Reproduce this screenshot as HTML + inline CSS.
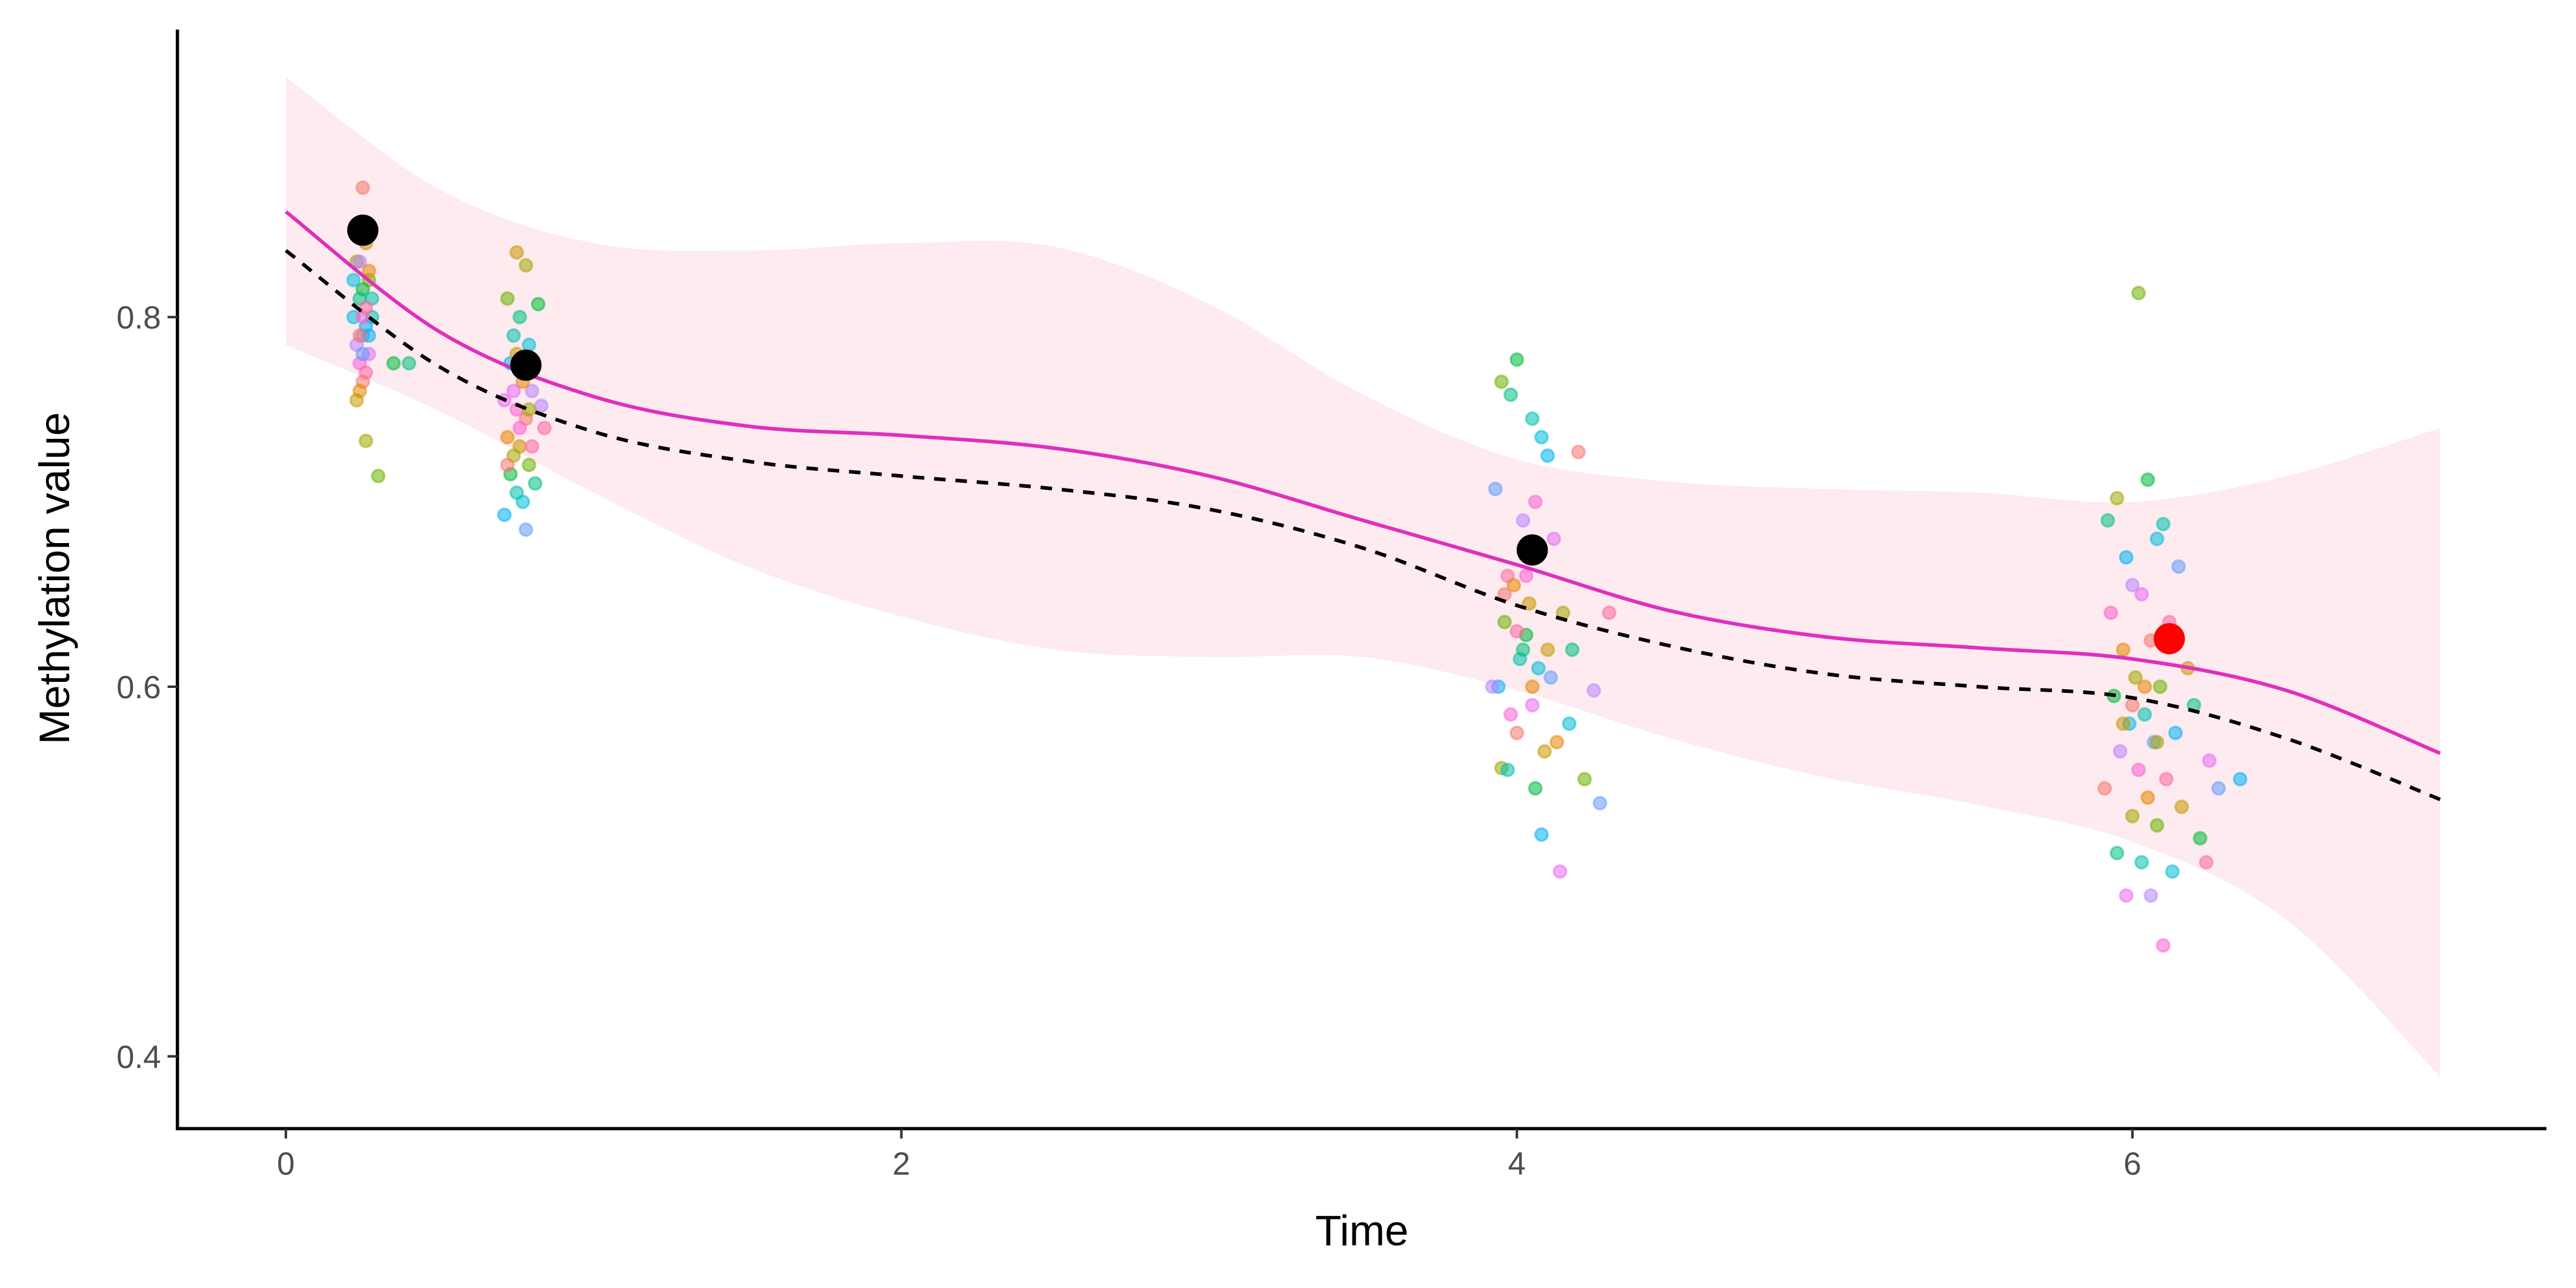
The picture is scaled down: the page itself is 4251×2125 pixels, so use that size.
<!DOCTYPE html>
<html><head><meta charset="utf-8"><style>html,body{margin:0;padding:0;background:#fff}svg{display:block}</style></head>
<body>
<svg id="chart" width="4251" height="2125" viewBox="0 0 1568 784" preserveAspectRatio="none" xmlns="http://www.w3.org/2000/svg">
<g id="plot"></g>
</svg>
<script>
const ribbonTimes=[0,0.5,1,1.5,2,2.5,3,3.5,4,4.5,5,5.5,6,6.5,7];
const ribbonUpper=[0.93,0.869,0.840,0.836,0.840,0.838,0.807,0.758,0.723,0.711,0.707,0.705,0.70,0.714,0.74];
const ribbonLower=[0.785,0.749,0.705,0.665,0.638,0.62,0.616,0.616,0.598,0.572,0.551,0.536,0.516,0.474,0.389];
const fitTimes=[0,0.5,1,1.5,2,2.5,3,3.5,4,4.5,5,5.5,6,6.5,7];
const fitValues=[0.857,0.792,0.757,0.741,0.736,0.729,0.714,0.69,0.666,0.641,0.627,0.621,0.615,0.598,0.564];
const dashTimes=[0,0.5,1,1.5,2,2.5,3,3.5,4,4.5,5,5.5,6,6.5,7];
const dashValues=[0.836,0.773,0.738,0.722,0.714,0.707,0.696,0.675,0.644,0.622,0.607,0.60,0.594,0.572,0.539];
const ptTimes=[0.25,0.24,0.26,0.23,0.27,0.25,0.24,0.28,0.22,0.26,0.25,0.23,0.27,0.24,0.26,0.25,0.24,0.23,0.26,0.3,0.35,0.4,0.28,0.22,0.27,0.25,0.24,0.26,0.25,0.26,0.24,0.27,
0.75,0.78,0.72,0.82,0.76,0.74,0.79,0.73,0.77,0.8,0.71,0.75,0.84,0.78,0.72,0.76,0.74,0.79,0.73,0.81,0.75,0.77,0.71,0.78,0.83,0.74,0.76,0.8,0.72,0.77,0.75,0.79,
3.95,4.0,3.98,4.05,4.08,4.1,3.93,4.02,4.12,4.06,3.97,4.2,3.99,4.04,4.15,3.96,4.03,4.18,4.01,4.07,3.94,4.11,4.25,4.05,3.98,4.3,4.0,4.13,4.09,3.95,4.22,4.06,4.02,3.97,4.17,4.08,4.27,3.92,4.14,4.03,4.0,3.96,4.05,4.1,
5.95,6.02,6.05,5.92,6.1,6.08,5.98,6.15,6.0,6.03,5.93,6.12,6.06,5.97,6.18,6.01,6.09,5.94,6.2,6.04,5.99,6.14,6.07,5.96,6.25,6.02,6.11,5.91,6.05,6.16,6.0,6.08,6.22,5.95,6.03,6.13,6.35,6.28,6.06,5.98,6.1,6.24,6.0,6.04,5.97,6.08];
const ptValues=[0.87,0.85,0.84,0.83,0.82,0.815,0.81,0.80,0.80,0.795,0.79,0.785,0.78,0.775,0.77,0.765,0.76,0.755,0.733,0.714,0.775,0.775,0.81,0.82,0.79,0.78,0.83,0.845,0.8,0.805,0.79,0.825,
0.835,0.828,0.81,0.807,0.80,0.79,0.785,0.775,0.77,0.76,0.755,0.75,0.74,0.745,0.735,0.73,0.725,0.72,0.715,0.71,0.705,0.70,0.693,0.685,0.752,0.76,0.74,0.73,0.72,0.765,0.78,0.75,
0.765,0.777,0.758,0.745,0.735,0.725,0.707,0.69,0.68,0.70,0.66,0.727,0.655,0.645,0.64,0.635,0.628,0.62,0.615,0.61,0.60,0.605,0.598,0.59,0.585,0.64,0.575,0.57,0.565,0.556,0.55,0.545,0.62,0.555,0.58,0.52,0.537,0.60,0.5,0.66,0.63,0.65,0.6,0.62,
0.702,0.813,0.712,0.69,0.688,0.68,0.67,0.665,0.655,0.65,0.64,0.635,0.625,0.62,0.61,0.605,0.60,0.595,0.59,0.585,0.58,0.575,0.57,0.565,0.56,0.555,0.55,0.545,0.54,0.535,0.53,0.525,0.518,0.51,0.505,0.50,0.55,0.545,0.487,0.487,0.46,0.505,0.59,0.6,0.58,0.57];
const yTicks=[0.4,0.6,0.8];
const xTicks=[0,2,4,6];
const meanTimes=[0.25,0.78,4.05,6.12];
const meanValues=[0.847,0.774,0.674,0.626];
const meanColors=['#000','#000','#000','#ff0000'];
const palette=['#F8766D','#E58700','#C99800','#A3A500','#6BB100','#00BA38','#00BF7D','#00C0AF','#00BCD8','#00B0F6','#619CFF','#B983FF','#E76BF3','#FD61D1','#FF67A4'];

const X=t=>174+t*187.33, Y=v=>193+(0.8-v)*1125;
const NS='http://www.w3.org/2000/svg';
const g=document.getElementById('plot');
function mk(tag,attrs){const e=document.createElementNS(NS,tag);for(const k in attrs)e.setAttribute(k,attrs[k]);g.appendChild(e);return e;}
function smooth(ts,vs){const p=ts.map((t,i)=>[X(t),Y(vs[i])]);let d='M'+p[0][0]+','+p[0][1];
for(let i=0;i<p.length-1;i++){const p0=p[Math.max(0,i-1)],p1=p[i],p2=p[i+1],p3=p[Math.min(p.length-1,i+2)];
d+='C'+(p1[0]+(p2[0]-p0[0])/6)+','+(p1[1]+(p2[1]-p0[1])/6)+' '+(p2[0]-(p3[0]-p1[0])/6)+','+(p2[1]-(p3[1]-p1[1])/6)+' '+p2[0]+','+p2[1];}return d;}
const up=smooth(ribbonTimes,ribbonUpper);
const lo=smooth(ribbonTimes.slice().reverse(),ribbonLower.slice().reverse()).replace('M','L');
let rb=mk('path',{d:up+lo+'Z',fill:'#fdebef'});


ptValues.forEach((v,i)=>{const c=palette[i%palette.length];
const p=mk('circle',{cx:X(ptTimes[i]),cy:Y(v),r:3.8,fill:c,'fill-opacity':0.55,stroke:c,'stroke-opacity':0.5,'stroke-width':1.3});

});
let fl=mk('path',{d:smooth(fitTimes,fitValues),fill:'none',stroke:'#e02fbe','stroke-width':2.2});


let dl=mk('path',{d:smooth(dashTimes,dashValues),fill:'none',stroke:'#000','stroke-width':2.2,'stroke-dasharray':'7,6'});


meanValues.forEach((v,i)=>{const m=mk('circle',{cx:X(meanTimes[i]),cy:Y(v),r:9.5,fill:meanColors[i]});

});
let ya=mk('line',{x1:108,y1:18,x2:108,y2:687,stroke:'#000','stroke-width':2});


let xa=mk('line',{x1:107,y1:687,x2:1550,y2:687,stroke:'#000','stroke-width':2});


yTicks.forEach(v=>{mk('line',{x1:102,y1:Y(v),x2:108,y2:Y(v),stroke:'#333','stroke-width':1.5});
const t=mk('text',{x:98,y:Y(v)+7,'text-anchor':'end','font-size':19.5,fill:'#4d4d4d','font-family':'Liberation Sans, sans-serif'});t.textContent=v.toFixed(1);

});
xTicks.forEach(v=>{mk('line',{x1:X(v),y1:687,x2:X(v),y2:693,stroke:'#333','stroke-width':1.5});
const t=mk('text',{x:X(v),y:715,'text-anchor':'middle','font-size':19.5,fill:'#4d4d4d','font-family':'Liberation Sans, sans-serif'});t.textContent=v;

});
let xt=mk('text',{x:829,y:758,'text-anchor':'middle','font-size':26,fill:'#000','font-family':'Liberation Sans, sans-serif'});xt.textContent='Time';


let yt=mk('text',{x:42,y:352,'text-anchor':'middle','font-size':26,fill:'#000','font-family':'Liberation Sans, sans-serif',transform:'rotate(-90 42 352)'});yt.textContent='Methylation value';


</script>
</body></html>
